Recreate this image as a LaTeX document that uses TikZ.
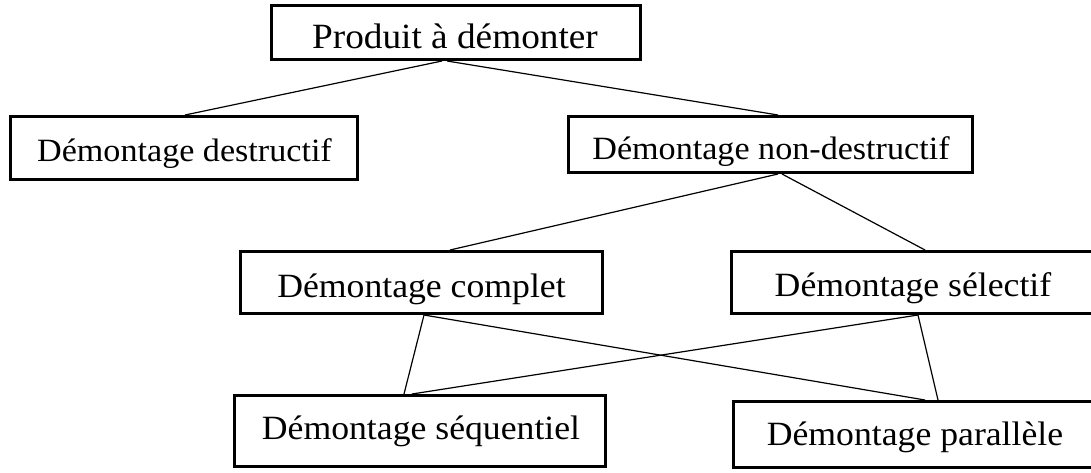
\documentclass[tikz,border=0pt]{standalone}
\usepackage{fontspec}
\setmainfont{Liberation Serif}
\newfontfamily\boxfont[FakeStretch=1.05]{Liberation Serif}
\begin{document}
\begin{tikzpicture}[x=1pt,y=-1pt,
  box/.style={draw, line width=2.7pt, rectangle, inner sep=0pt},
  lbl/.style={inner sep=0pt, anchor=base},
  big/.style={font=\boxfont\fontsize{35.5}{36}\selectfont},
  mid/.style={font=\boxfont\fontsize{32.5}{33}\selectfont},
  std/.style={font=\boxfont\fontsize{34}{35}\selectfont},
  link/.style={line width=1.2pt}]
\path[use as bounding box, clip] (0,0) rectangle (1091,472);
\fill[white] (0,0) rectangle (1091,472);

% boxes
\node[box, minimum width=369.3, minimum height=54.3] (b1) at (456,32.5) {};
\node[box, minimum width=347.3, minimum height=63.3] (b2) at (184,148) {};
\node[box, minimum width=404.3, minimum height=56.3] (b3) at (770.5,144.5) {};
\node[box, minimum width=362.3, minimum height=62.3] (b4) at (421.5,282.5) {};
\node[box, minimum width=363.3, minimum height=62.3] (b5) at (913,282.5) {};
\node[box, minimum width=371.3, minimum height=71.3] (b6) at (420,431) {};
\node[box, minimum width=363.3, minimum height=66.3] (b7) at (915,434.5) {};

% labels
\node[lbl, big] (t1) at (455,48.5) {Produit à démonter};
\node[lbl, mid] (t2) at (184.5,161) {Démontage destructif};
\node[lbl, mid] (t3) at (771,159) {Démontage non-destructif};
\node[lbl, std] (t4) at (421.5,297) {Démontage complet};
\node[lbl, std] (t5) at (913,296) {Démontage sélectif};
\node[lbl, std] (t6) at (421,439) {Démontage séquentiel};
\node[lbl, std] (t7) at (915,445.5) {Démontage parallèle};

% connectors
\draw[link] ([xshift=-14pt]b1.south) -- ([xshift=1pt]b2.north);
\draw[link] ([xshift=-9pt]b1.south) -- ([xshift=7.5pt]b3.north);
\draw[link] ([xshift=7.5pt]b3.south) -- ([xshift=28.5pt]b4.north);
\draw[link] ([xshift=11.5pt]b3.south) -- ([xshift=12pt]b5.north);
\draw[link] ([xshift=2.5pt]b4.south) -- ([xshift=-16pt]b6.north);
\draw[link] ([xshift=2.5pt]b4.south) -- ([xshift=10pt]b7.north);
\draw[link] ([xshift=5pt]b5.south) -- ([xshift=-8pt]b6.north);
\draw[link] ([xshift=5pt]b5.south) -- ([xshift=23pt]b7.north);
\end{tikzpicture}
\end{document}
